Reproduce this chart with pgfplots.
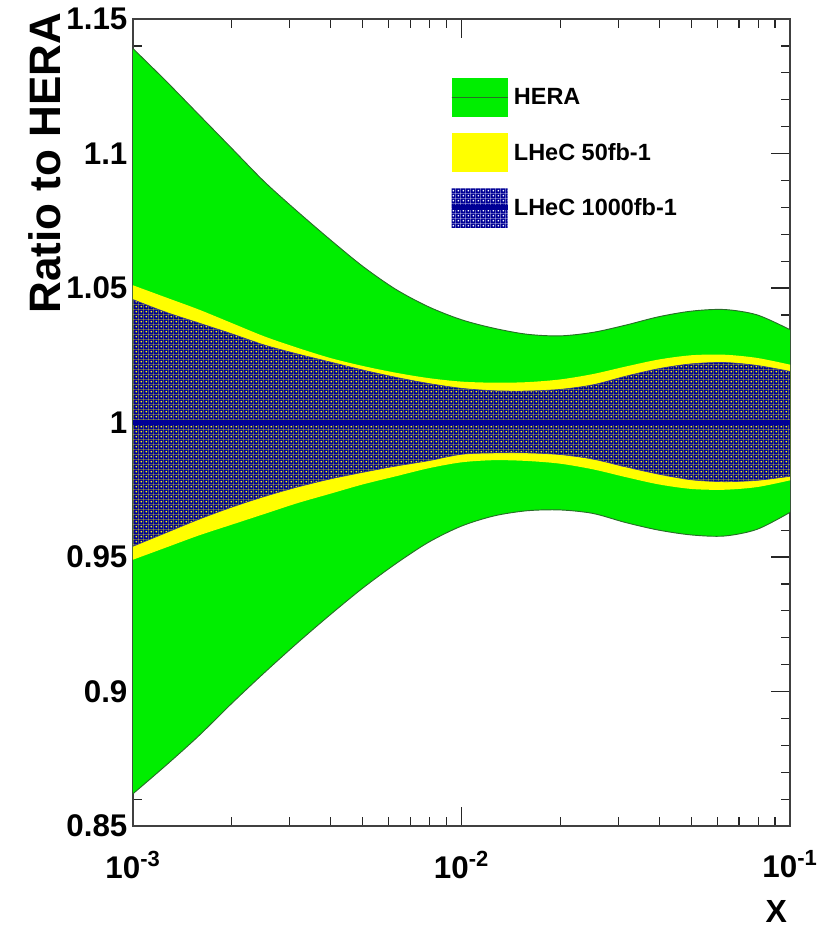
\documentclass[border=0pt]{standalone}
\usepackage{pgfplots}
\pgfplotsset{compat=1.18}
\usepackage{pgfplotstable}
\usepgfplotslibrary{fillbetween}
\usetikzlibrary{patterns}
\usepackage{fontspec}
\setmainfont{Liberation Sans}

\definecolor{hgreen}{RGB}{0,238,0}
\definecolor{hedge}{RGB}{40,110,40}
\definecolor{lyellow}{RGB}{255,255,0}
\definecolor{lnavy}{RGB}{0,0,150}

\pgfdeclarepatternformonly{rootdots}{\pgfqpoint{0pt}{0pt}}{\pgfqpoint{3.6pt}{3.6pt}}{\pgfqpoint{3.6pt}{3.6pt}}{%
  \pgfpathrectangle{\pgfqpoint{0pt}{0pt}}{\pgfqpoint{3.6pt}{3.6pt}}%
  \pgfpathcircle{\pgfqpoint{1.8pt}{1.8pt}}{0.9pt}%
  \pgfseteorule\pgfusepath{fill}}

\pgfplotstableread{
x         hu      hl      yu      yl      cu      cl
0.001     1.139   0.862   1.051   0.949   1.0457  0.954
0.0012589 1.127   0.8725  1.0465  0.9535  1.041   0.959
0.0015849 1.1145  0.8835  1.042   0.958   1.037   0.964
0.0019953 1.102   0.8955  1.037   0.962   1.033   0.9685
0.0025119 1.0895  0.907   1.032   0.966   1.0288  0.9725
0.0031623 1.0785  0.918   1.0278  0.970   1.0255  0.976
0.0039811 1.068   0.9285  1.024   0.9735  1.0225  0.979
0.0050119 1.058   0.9385  1.021   0.977   1.0195  0.9815
0.0063096 1.0495  0.9475  1.0185  0.980   1.0168  0.9838
0.0079433 1.043   0.9555  1.0165  0.983   1.0145  0.9858
0.01      1.0382  0.9615  1.0152  0.9852  1.0127  0.9882
0.012589  1.035   0.9653  1.0148  0.986   1.0118  0.9887
0.015849  1.0328  0.9672  1.015   0.9857  1.0117  0.9887
0.019953  1.0322  0.9675  1.016   0.9847  1.0123  0.9881
0.025119  1.0335  0.9662  1.018   0.9826  1.014   0.9864
0.031623  1.0362  0.9628  1.0208  0.9797  1.0172  0.9835
0.039811  1.0393  0.9600  1.0234  0.977   1.020   0.9808
0.050119  1.0414  0.9582  1.025   0.9753  1.0218  0.9787
0.063096  1.042   0.9578  1.0252  0.975   1.0223  0.978
0.079433  1.040   0.9603  1.024   0.976   1.0212  0.9785
0.1       1.0345  0.9666  1.0215  0.9785  1.019   0.980
}\bands

\begin{document}
\begin{tikzpicture}
\begin{axis}[
  at={(0pt,0pt)}, anchor=south west,
  scale only axis, width=492.75pt, height=605.25pt,
  xmode=log, xmin=0.001, xmax=0.1, ymin=0.85, ymax=1.15,
  xtick={0.001,0.01,0.1},
  xticklabels={10\textsuperscript{-3},10\textsuperscript{-2},10\textsuperscript{-1}},
  minor xtick={0.002,0.003,0.004,0.005,0.006,0.007,0.008,0.009,0.02,0.03,0.04,0.05,0.06,0.07,0.08,0.09},
  ytick={0.85,0.9,0.95,1,1.05,1.1,1.15},
  yticklabels={0.85,0.9,0.95,1,1.05,1.1,1.15},
  minor ytick={0.86,0.87,0.88,0.89,0.91,0.92,0.93,0.94,0.96,0.97,0.98,0.99,1.01,1.02,1.03,1.04,1.06,1.07,1.08,1.09,1.11,1.12,1.13,1.14},
  xtick pos=both, ytick pos=both, tick align=inside,
  major tick length=14pt, minor tick length=7pt,
  every tick/.style={black!85, line width=0.9pt},
  axis line style={black!75, line width=1.1pt},
  ticklabel style={font=\bfseries\fontsize{23.5}{23.5}\selectfont},
  xticklabel style={yshift=-15pt},
  yticklabel style={inner sep=0pt, anchor=east, xshift=-4pt},
  ylabel={Ratio to HERA},
  ylabel style={at={(axis description cs:-0.11,1.008)}, anchor=south east, inner sep=0pt, font=\bfseries\fontsize{33}{33}\selectfont},
  xlabel={X},
  xlabel style={at={(axis description cs:1,0)}, anchor=north east, yshift=-56pt, xshift=-2pt, inner sep=0pt, font=\bfseries\fontsize{24}{24}\selectfont},
  legend style={at={(axis description cs:0.481,0.9269)}, anchor=north west, draw=none, fill=none, inner sep=0pt, row sep=12pt, column sep=3pt, font=\bfseries\fontsize{17.6}{17.6}\selectfont, nodes={inner sep=0pt}},
  legend cell align=left,
]
\addplot[name path=HU, draw=none, smooth, forget plot] table[x=x,y=hu]{\bands};
\addplot[name path=HL, draw=none, smooth, forget plot] table[x=x,y=hl]{\bands};
\addplot[fill=hgreen, draw=none,
  legend image code/.code={\fill[hgreen] (0pt,-14.6pt) rectangle (42pt,14.6pt); \draw[hedge, line width=0.7pt] (0pt,0pt) -- (42pt,0pt);}]
  fill between[of=HU and HL];
\addlegendentry{HERA}
\addplot[hedge, line width=0.7pt, smooth, forget plot] table[x=x,y=hu]{\bands};
\addplot[hedge, line width=0.7pt, smooth, forget plot] table[x=x,y=hl]{\bands};

\addplot[name path=YU, draw=none, smooth, forget plot] table[x=x,y=yu]{\bands};
\addplot[name path=YL, draw=none, smooth, forget plot] table[x=x,y=yl]{\bands};
\addplot[fill=lyellow, draw=none,
  legend image code/.code={\fill[lyellow] (0pt,-14.6pt) rectangle (42pt,14.6pt);}]
  fill between[of=YU and YL];
\addlegendentry{LHeC 50fb-1}

\addplot[name path=CU, lnavy!50!gray, line width=0.5pt, smooth, forget plot] table[x=x,y=cu]{\bands};
\addplot[name path=CL, lnavy!50!gray, line width=0.5pt, smooth, forget plot] table[x=x,y=cl]{\bands};
\addplot[pattern=rootdots, pattern color=lnavy, draw=none,
  legend image code/.code={\fill[pattern=rootdots, pattern color=lnavy] (0pt,-14.6pt) rectangle (42pt,14.6pt); \draw[lnavy, line width=3.5pt] (0pt,0pt) -- (42pt,0pt);}]
  fill between[of=CU and CL];
\addlegendentry{LHeC 1000fb-1}

\addplot[lnavy, line width=3.5pt, forget plot] coordinates {(0.001,1) (0.1,1)};
\end{axis}
\path (-99.75pt,-80.25pt) rectangle (527.25pt,619.5pt);
\end{tikzpicture}
\end{document}
